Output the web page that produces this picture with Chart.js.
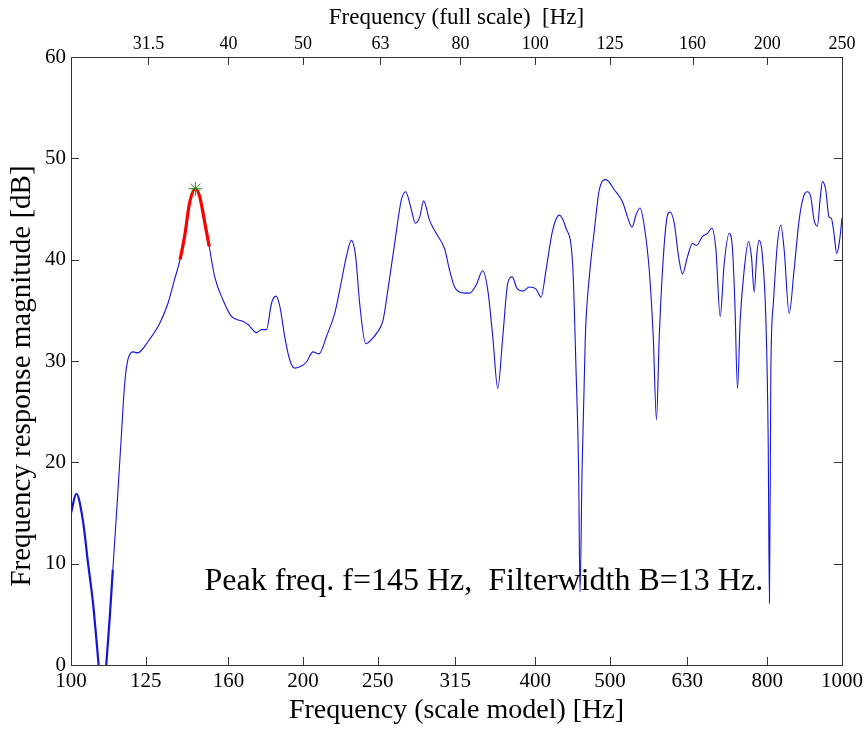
<!DOCTYPE html>
<html>
<head>
<meta charset="utf-8">
<title>Frequency response</title>
<script src="https://cdn.jsdelivr.net/npm/chart.js@4.4.0/dist/chart.umd.min.js"></script>
<style>
  html, body { margin: 0; padding: 0; background: #fff; }
  #wrap { width: 867px; height: 729px; }
</style>
</head>
<body>
<div id="wrap"><canvas id="respChart"></canvas></div>
<script>
// scale-model frequency [Hz] and response magnitude [dB]
const freqHz = [
    100.0, 101.6, 103.6, 105.2, 106.8, 107.8, 108.6, 109.4, 110.3, 111.1,
    112.2, 113.3, 114.8, 116.2, 117.4, 118.5, 120.3, 122.1, 125.8, 130.3,
    133.6, 136.2, 138.5, 140.4, 142.5, 145.0, 146.9, 148.9, 151.1, 153.6,
    157.5, 161.5, 167.2, 169.7, 174.0, 176.6, 179.3, 182.0, 184.4, 186.6,
    189.3, 192.2, 195.1, 199.0, 202.0, 206.0, 209.7, 214.4, 219.8, 223.1,
    227.6, 231.0, 234.0, 236.8, 241.1, 245.2, 248.9, 253.9, 257.6, 262.9,
    268.2, 271.7, 275.8, 279.7, 283.3, 286.7, 291.7, 297.6, 305.1, 309.7,
    314.4, 319.1, 323.9, 328.7, 335.4, 342.0, 347.2, 352.4, 357.7, 363.1,
    368.6, 373.5, 378.6, 385.4, 393.2, 401.1, 407.1, 413.2, 421.4, 429.9,
    438.6, 447.3, 451.9, 455.4, 457.3, 460.1, 464.6, 470.2, 477.3, 484.4,
    494.2, 506.6, 519.3, 527.1, 534.1, 540.5, 547.0, 554.1, 562.3, 569.1,
    574.6, 579.4, 585.1, 592.2, 598.2, 605.9, 613.8, 621.0, 630.4, 639.9,
    647.6, 659.2, 669.2, 678.0, 686.2, 695.0, 703.4, 714.0, 721.1, 726.2,
    731.9, 737.8, 746.7, 756.3, 763.1, 769.3, 775.5, 780.9, 788.6, 796.7,
    802.1, 805.2, 808.6, 814.7, 824.6, 833.0, 841.3, 854.0, 866.7, 879.8,
    891.2, 901.9, 910.9, 920.0, 929.0, 936.6, 943.1, 952.6, 962.0, 968.5,
    976.3, 984.3, 992.0, 1000
];
const magDb = [
    15.0, 16.9, 14.3, 10.1, 6.1, 2.8, 0, -3, -3, 0,
    4.4, 9.4, 16.0, 22.5, 27.8, 30.1, 30.9, 30.8, 31.9, 33.7,
    35.7, 38.0, 40.0, 42.3, 45.6, 47.0, 46.2, 43.9, 41.3, 38.3,
    36.0, 34.4, 33.9, 33.6, 32.8, 33.1, 33.1, 35.7, 36.4, 35.4,
    32.4, 30.1, 29.3, 29.5, 29.9, 30.9, 30.7, 32.4, 34.7, 37.0,
    40.3, 41.9, 40.3, 35.7, 31.7, 32.1, 32.7, 34.0, 37.0, 41.6,
    45.9, 46.7, 45.2, 43.6, 44.2, 45.8, 43.9, 42.6, 41.1, 39.0,
    37.3, 36.8, 36.7, 36.7, 37.5, 38.9, 37.0, 32.4, 27.3, 32.4,
    37.7, 38.3, 37.2, 36.9, 37.3, 37.1, 36.3, 39.0, 42.9, 44.4,
    43.1, 39.6, 29.1, 19.2, 7.2, 19.2, 32.4, 38.3, 42.9, 46.9,
    47.9, 46.9, 45.7, 44.2, 43.2, 44.4, 45.1, 43.3, 39.0, 32.4,
    24.2, 32.4, 39.0, 43.9, 44.7, 43.6, 40.3, 38.6, 40.3, 41.6,
    41.4, 42.3, 42.6, 43.1, 41.0, 34.4, 39.6, 42.6, 41.0, 35.7,
    27.3, 34.0, 39.0, 41.8, 40.3, 36.8, 40.6, 41.9, 40.3, 34.0,
    22.5, 6.1, 29.1, 35.7, 41.6, 43.4, 41.0, 34.7, 39.0, 43.9,
    46.2, 46.7, 46.2, 43.9, 43.3, 45.9, 47.7, 46.9, 44.2, 44.1,
    42.6, 40.6, 41.7, 44.1
];

const modelTicks = [100, 125, 160, 200, 250, 315, 400, 500, 630, 800, 1000];
const fullScaleTicks = [31.5, 40, 50, 63, 80, 100, 125, 160, 200, 250];
const dbTicks = [0, 10, 20, 30, 40, 50, 60];

const peakFreq = 145;
const peakDb = 47.0;
const filterWidth = 13;

const SERIF = '"Liberation Serif", "Times New Roman", serif';

// note placed in data coords (left edge / baseline)
const noteFreq = 149;
const noteDb = 7.4;
const noteText = `Peak freq. f=${peakFreq} Hz,  Filterwidth B=${filterWidth} Hz.`;
const yTitle = 'Frequency response magnitude [dB]';

const curve = freqHz.map((f, i) => ({ x: f, y: magDb[i] }));
const band = curve.filter(p => p.x >= peakFreq - filterWidth / 2 && p.x <= peakFreq + filterWidth / 2);

// box round the axes, ticks pointing inward, y title and the text note
const framePlugin = {
    id: 'framePlugin',
    afterDatasetsDraw(chart) {
        const { ctx, chartArea: a, scales } = chart;
        const len = 8;
        ctx.save();
        ctx.strokeStyle = '#333';
        ctx.lineWidth = 1;
        ctx.beginPath();
        scales.x.ticks.forEach(t => {
            const px = Math.round(scales.x.getPixelForValue(t.value)) + 0.5;
            ctx.moveTo(px, a.bottom); ctx.lineTo(px, a.bottom - len);
        });
        scales.xTop.ticks.forEach(t => {
            const px = Math.round(scales.xTop.getPixelForValue(t.value)) + 0.5;
            ctx.moveTo(px, a.top); ctx.lineTo(px, a.top + len);
        });
        scales.y.ticks.forEach(t => {
            const py = Math.round(scales.y.getPixelForValue(t.value)) + 0.5;
            ctx.moveTo(a.left, py); ctx.lineTo(a.left + len, py);
            ctx.moveTo(a.right, py); ctx.lineTo(a.right - len, py);
        });
        ctx.stroke();
        ctx.strokeRect(Math.round(a.left) + 0.5, Math.round(a.top) + 0.5,
            Math.round(a.right - a.left), Math.round(a.bottom - a.top));

        ctx.fillStyle = '#000';
        ctx.font = '32px ' + SERIF;
        ctx.textBaseline = 'alphabetic';
        ctx.textAlign = 'left';
        ctx.fillText(noteText, scales.x.getPixelForValue(noteFreq), scales.y.getPixelForValue(noteDb));

        // y title, sitting a little below the axis middle as in the original
        ctx.translate(22, (a.top + a.bottom) / 2 + 15);
        ctx.rotate(-Math.PI / 2);
        ctx.font = '29px ' + SERIF;
        ctx.textAlign = 'center';
        ctx.textBaseline = 'middle';
        ctx.fillText(yTitle, 0, 0);
        ctx.restore();
    }
};

const ctx = document.getElementById('respChart').getContext('2d');
new Chart(ctx, {
    type: 'line',
    data: {
        datasets: [
            {
                label: 'peak',
                data: [{ x: peakFreq, y: peakDb }],
                showLine: false,
                pointStyle: 'star',
                pointRadius: 7,
                borderColor: '#1f8f1f',
                backgroundColor: '#1f8f1f',
                borderWidth: 1,
                xAxisID: 'x', yAxisID: 'y',
                order: 0
            },
            {
                label: 'filter band',
                data: band,
                borderColor: '#ff0000',
                borderWidth: 3.2,
                pointRadius: 0,
                cubicInterpolationMode: 'monotone',
                xAxisID: 'x', yAxisID: 'y',
                order: 1
            },
            {
                label: 'response',
                data: curve,
                borderColor: 'rgb(20,20,215)',
                borderWidth: 1.1,
                pointRadius: 0,
                cubicInterpolationMode: 'monotone',
                segment: {
                    borderWidth: c => (c.p1.parsed.x <= 113.5 ? 2.2 : 1.1)
                },
                xAxisID: 'x', yAxisID: 'y',
                order: 2
            }
        ]
    },
    options: {
        responsive: true,
        maintainAspectRatio: false,
        animation: false,
        layout: { padding: { left: 0, right: 24, top: 0, bottom: 0 } },
        plugins: {
            legend: { display: false },
            tooltip: { enabled: false }
        },
        scales: {
            x: {
                type: 'logarithmic',
                position: 'bottom',
                min: 100,
                max: 1000,
                grid: { display: false, drawTicks: false, tickLength: 0 },
                border: { display: false },
                afterBuildTicks: s => { s.ticks = modelTicks.map(v => ({ value: v })); },
                afterFit: s => { s.height = 64; },
                ticks: {
                    autoSkip: false, maxRotation: 0, padding: 4, color: '#000',
                    font: { family: SERIF, size: 21 },
                    callback: v => String(v)
                },
                title: {
                    display: true, text: 'Frequency (scale model) [Hz]', color: '#000',
                    font: { family: SERIF, size: 28 }, padding: { top: 0, bottom: 2 }
                }
            },
            xTop: {
                type: 'logarithmic',
                position: 'top',
                display: true,
                min: 25,
                max: 250,
                grid: { display: false, drawTicks: false, tickLength: 0 },
                border: { display: false },
                afterBuildTicks: s => { s.ticks = fullScaleTicks.map(v => ({ value: v })); },
                afterFit: s => { s.height = 57; },
                ticks: {
                    autoSkip: false, maxRotation: 0, padding: 2, color: '#000',
                    font: { family: SERIF, size: 18 },
                    callback: v => String(v)
                },
                title: {
                    display: true, text: 'Frequency (full scale)  [Hz]', color: '#000',
                    font: { family: SERIF, size: 23 }, padding: { top: 4, bottom: 0 }
                }
            },
            y: {
                type: 'linear',
                position: 'left',
                min: 0,
                max: 60,
                grid: { display: false, drawTicks: false, tickLength: 0 },
                border: { display: false },
                afterBuildTicks: s => { s.ticks = dbTicks.map(v => ({ value: v })); },
                afterFit: s => { s.width = 71; },
                ticks: {
                    padding: 5, color: '#000',
                    font: { family: SERIF, size: 21 }
                },
                title: { display: false }
            }
        }
    },
    plugins: [framePlugin]
});
</script>
</body>
</html>
